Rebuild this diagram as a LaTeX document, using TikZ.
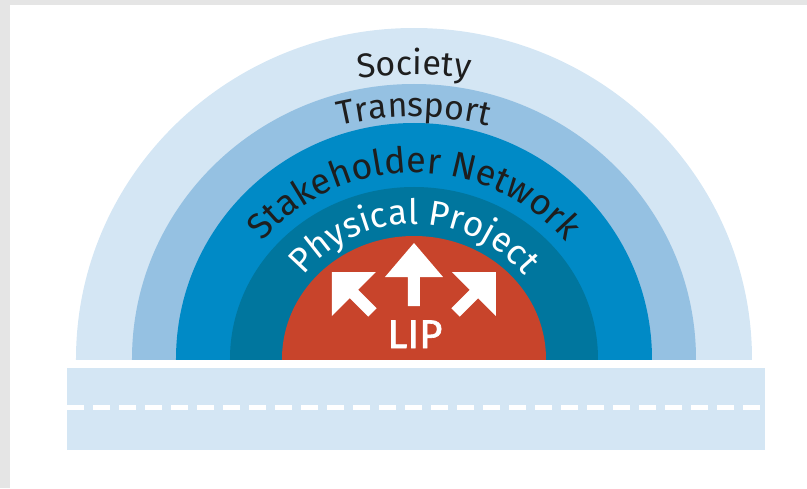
\documentclass[tikz,border=0pt]{standalone}
\usepackage{fontspec}
\setmainfont{Fira Sans}
\newfontfamily\lipfont{Fira Sans}[FakeBold=1.6]
\usetikzlibrary{decorations.text}
\definecolor{ringA}{HTML}{D4E6F4}
\definecolor{ringB}{HTML}{95C1E2}
\definecolor{ringC}{HTML}{008AC6}
\definecolor{ringD}{HTML}{00769E}
\definecolor{lipred}{HTML}{C8442B}
\definecolor{txtdark}{HTML}{1E1E1E}
\definecolor{frame}{HTML}{E5E5E5}
\tikzset{ring/.style={fill=#1},
	 ringtext/.style n args={3}{decorate,decoration={text along path,text align=center,
	   text={|\fontsize{#1}{#1}\selectfont\color{#2}|#3}}},
	 arrowhd/.style={fill=white},
	 x=1pt, y=1pt
	 }

\begin{document}
\begin{tikzpicture} % layers round the LIP, road below
	\useasboundingbox (-414,-129) rectangle (393,359);
	\fill[frame] (-414,-129) rectangle (-404,359);
	\fill[frame] (-414,354) rectangle (393,359);
	\begin{scope}
	  \clip (-400,0) rectangle (400,359);
	  \fill[ring=ringA] (0,0) ellipse [x radius=338pt, y radius=331pt];
	  \fill[ring=ringB] (0,0) ellipse [x radius=282pt, y radius=275pt];
	  \fill[ring=ringC] (0,0) ellipse [x radius=238pt, y radius=236pt];
	  \fill[ring=ringD] (0,0) ellipse [x radius=184pt, y radius=172pt];
	  \fill[ring=lipred] (0,0) ellipse [x radius=132pt, y radius=123pt];
	\end{scope}
	\path[ringtext={34}{txtdark}{Society}] (-330,0) arc [start angle=180, end angle=0, x radius=330pt, y radius=284pt];
	\path[ringtext={34}{txtdark}{Transport}] (-280,0) arc [start angle=180, end angle=0, x radius=280pt, y radius=242pt];
	\path[ringtext={36}{txtdark}{Stakeholder Network}] (-195,0) arc [start angle=180, end angle=0, x radius=195pt, y radius=186pt];
	\path[ringtext={35}{white}{Physical Project}] (-140,0) arc [start angle=180, end angle=0, x radius=140pt, y radius=135pt];
	\fill[arrowhd] (0,116) -- (29,82) -- (6,82) -- (6,53) -- (-6,53) -- (-6,82) -- (-29,82) -- cycle;
	\foreach \s in {1,-1}
	  \fill[arrowhd, xscale=\s] (-82,87) -- (-38,87) -- (-55.8,69.2) -- (-37.4,50.8) -- (-45.8,42.4) -- (-64.2,60.8) -- (-82,43) -- cycle;
	\node[anchor=base, text=white, font=\lipfont\fontsize{40}{40}\selectfont, inner sep=0pt] (lip) at (1,11) {LIP};
	\coordinate (rl) at (-347,-48); \coordinate (rr) at (351,-48);
	\fill[ring=ringA] (-347,-9) rectangle (351,-91);
	\draw[white, line width=5pt, dash pattern=on 17pt off 9pt] (rl) -- (rr);
\end{tikzpicture}
\end{document}
